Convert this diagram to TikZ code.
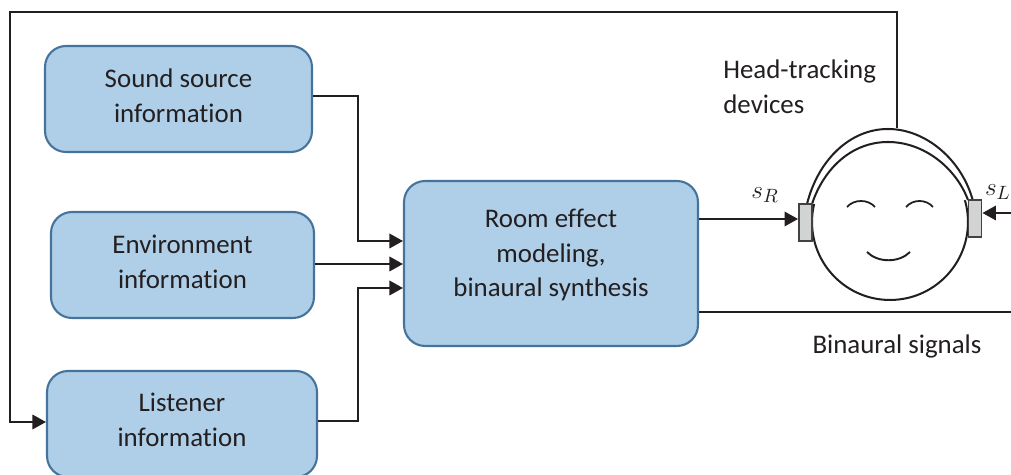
\documentclass[tikz,border=0pt]{standalone}
\usepackage{fontspec}
\setmainfont{Carlito}[Ligatures=NoCommon]
\usepackage{amsmath}
\usepackage{xcolor}
\usetikzlibrary{arrows.meta}
\usetikzlibrary{positioning,calc}
\definecolor{boxfill}{HTML}{AFCFE8}
\definecolor{boxline}{HTML}{45739C}
\definecolor{inkdark}{HTML}{231F20}
\definecolor{padfill}{HTML}{D2D4D4}
\tikzset{
  every node/.style={font=\fontsize{15.3}{19.8}\selectfont, text=inkdark},
  infobox/.style={
    draw=boxline,
    fill=boxfill,
    rounded corners=0.42cm,
    line width=1.2pt,
    align=center,
    inner sep=0pt,
    minimum height=2.12cm
  },
  lift/.style={execute at end node={\rule[-#1]{0pt}{0pt}}},
  signal/.style={
    draw=inkdark,
    line width=1.05pt,
    -{Triangle[length=2.7mm, width=2.9mm]}
  },
  plainwire/.style={draw=inkdark, line width=1.05pt},
  earpad/.style={
    draw=inkdark!85,
    fill=padfill,
    line width=1.1pt,
    inner sep=0pt,
    minimum width=0.26cm,
    minimum height=0.74cm
  }
}
\begin{document}
\begin{tikzpicture}[x=0.02cm,y=-0.02cm]
  \useasboundingbox (0,0) rectangle (1011,475);

  % Input boxes and the synthesis block
  \node[infobox, lift=4pt, minimum width=5.34cm] (sound) at (178.5,99) {Sound source\\information};
  \node[infobox, lift=4pt, minimum width=5.26cm] (environment) at (182.5,265) {Environment\\information};
  \node[infobox, lift=5pt, minimum width=5.40cm] (listener) at (182,424) {Listener\\information};
  \node[infobox, lift=12pt, minimum width=5.88cm, minimum height=3.30cm] (room) at (551,263.5) {Room effect\\modeling,\\binaural synthesis};

  % Head with headphones
  \node[circle, draw=inkdark, line width=1.15pt, fill=white, minimum size=3.12cm, inner sep=0pt] (head) at (890,222) {};
  \draw[inkdark, line width=1.15pt] (807,204) .. controls (818,160) and (850,129) .. (888,129)
    .. controls (926,129) and (962,160) .. (973,201);
  \draw[inkdark, line width=1.15pt, fill=white] (812,204) .. controls (824,168) and (852,142) .. (888,142)
    .. controls (924,142) and (956,168) .. (968,200);
  \node[earpad] (padR) at (805.5,222.5) {};
  \node[earpad] (padL) at (975,218.5) {};
  \coordinate (headtop) at (897,128);
  \draw[inkdark, line width=1pt] (847,207) .. controls (854,199) and (868,199) .. (875,207);
  \draw[inkdark, line width=1pt] (906,207) .. controls (913,199) and (926,199) .. (933,207);
  \draw[inkdark, line width=1.1pt] (867,252) .. controls (878,263) and (899,263) .. (910,252);

  % Feedback from the head tracker
  \coordinate (topR) at (897,12);
  \coordinate (topL) at (10,12);
  \coordinate (downL) at (10,422);
  \draw[signal] (headtop) -- (topR) -- (topL) -- (downL) -- (listener.west |- downL);

  % Inputs of the synthesis block
  \coordinate (busA) at (358,96);
  \coordinate (busB) at (358,241);
  \coordinate (busC) at (358,421);
  \coordinate (busD) at (358,288);
  \draw[signal] (sound.east |- busA) -- (busA) -- (busB) -- (room.west |- busB);
  \coordinate (envrow) at (358,264);
  \draw[signal] (environment.east |- envrow) -- (room.west |- envrow);
  \draw[signal] (listener.east |- busC) -- (busC) -- (busD) -- (room.west |- busD);

  % Outputs
  \coordinate (rowR) at (750,219);
  \draw[signal] (room.east |- rowR) -- (padR.west |- rowR);
  \coordinate (edgeL) at (1011,213);
  \draw[signal] (edgeL) -- (padL.east |- edgeL);
  \coordinate (rowBottom) at (750,312);
  \coordinate (edgeBottom) at (1011,312);
  \draw[plainwire] (room.east |- rowBottom) -- (edgeBottom);

  % Labels
  \node[anchor=west, align=left, inner sep=0pt] (tracking) at (723,87) {Head-tracking\\devices};
  \node[inner sep=0pt] (binaural) at (897,346) {Binaural signals};
  \node[inner sep=0pt] (labelR) at (765,195) {$s_R$};
  \node[anchor=east, inner sep=0pt] (labelL) at (1011,192) {$s_L$};
\end{tikzpicture}
\end{document}
